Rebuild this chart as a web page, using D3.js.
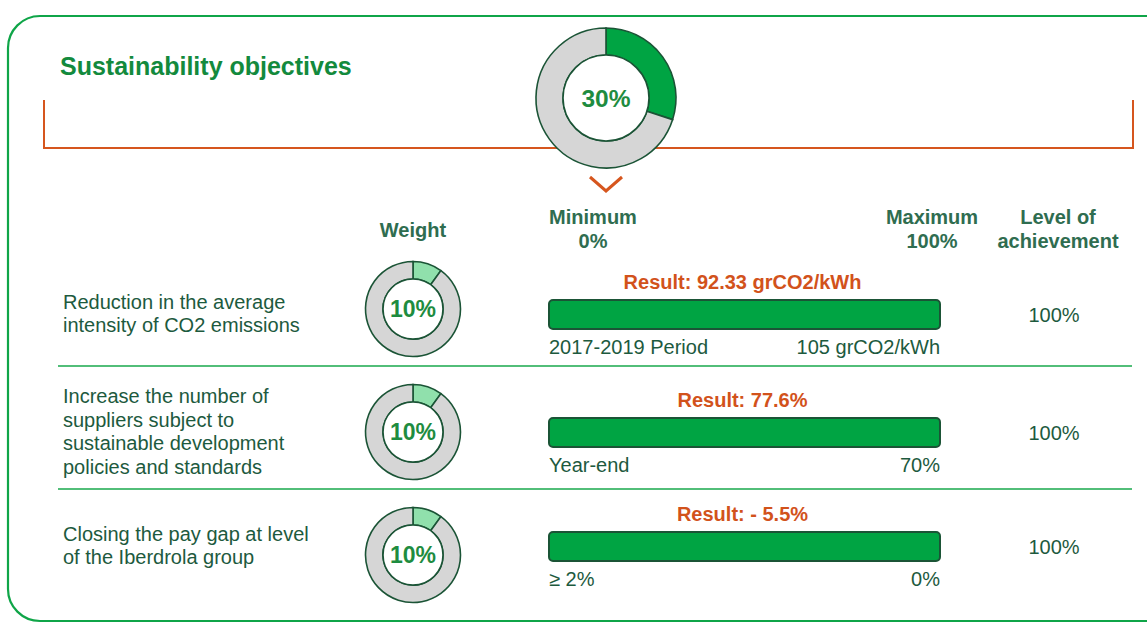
<!DOCTYPE html>
<html lang="en">
<head>
    <meta charset="UTF-8">
    <title>Sustainability objectives</title>
    <script src="https://cdn.jsdelivr.net/npm/d3@7"></script>
    <style>
        html, body {
            margin: 0;
            padding: 0;
            background: #ffffff;
        }

        svg {
            display: block;
            font-family: "Liberation Sans", Arial, sans-serif;
        }

        .head {
            font-weight: bold;
            font-size: 20px;
            fill: #2f6d50;
        }

        .txt {
            font-size: 20px;
            fill: #1d5a3e;
        }

        .result {
            font-weight: bold;
            font-size: 20px;
            fill: #d2521b;
        }
    </style>
</head>
<body>
<svg id="chart"></svg>

<script>
    // data
    const objectives = [
        ["Reduction in the average", "intensity of CO2 emissions"],
        ["Increase the number of", "suppliers subject to", "sustainable development", "policies and standards"],
        ["Closing the pay gap at level", "of the Iberdrola group"]
    ];
    const weights = [10, 10, 10];
    const totalWeight = 30;
    const results = ["Result: 92.33 grCO2/kWh", "Result: 77.6%", "Result: - 5.5%"];
    const minLabels = ["2017-2019 Period", "Year-end", "\u2265 2%"];
    const maxLabels = ["105 grCO2/kWh", "70%", "0%"];
    const achievement = [100, 100, 100];

    const width = 1147, height = 623;
    const svg = d3.select("#chart").attr("width", width).attr("height", height);

    const green = "#00a443", lightGreen = "#90e0ac", grey = "#d6d6d6", dark = "#1b5436", orange = "#d6561e";

    // frame
    svg.append("rect")
        .attr("x", 8).attr("y", 16)
        .attr("width", 1180).attr("height", 605)
        .attr("rx", 32)
        .attr("fill", "none").attr("stroke", "#0fa548").attr("stroke-width", 2.2);

    svg.append("text")
        .attr("x", 60).attr("y", 75)
        .attr("font-size", 25).attr("font-weight", "bold")
        .attr("fill", "#138a3d")
        .text("Sustainability objectives");

    // orange bracket
    svg.append("path")
        .attr("d", "M44,100V148H1133V100")
        .attr("fill", "none").attr("stroke", orange).attr("stroke-width", 2);

    // donut helper
    const pie = d3.pie().sort(null).value(d => d);

    function donut(cx, cy, rOuter, rInner, value, fillColor, fontSize) {
        const arc = d3.arc().innerRadius(rInner).outerRadius(rOuter);
        const g = svg.append("g").attr("transform", `translate(${cx},${cy})`);
        g.selectAll("path")
            .data(pie([value, 100 - value]))
            .join("path")
            .attr("d", arc)
            .attr("fill", (d, i) => i === 0 ? fillColor : grey)
            .attr("stroke", dark)
            .attr("stroke-width", 1.6);
        g.append("circle").attr("r", rInner).attr("fill", "#fff").attr("stroke", dark).attr("stroke-width", 1.6);
        g.append("text")
            .attr("text-anchor", "middle")
            .attr("dy", "0.35em")
            .attr("font-size", fontSize).attr("font-weight", "bold")
            .attr("fill", "#1e8c40")
            .text(value + "%");
    }

    donut(606, 98, 70, 43, totalWeight, green, 24.5);

    // chevron
    svg.append("path")
        .attr("d", "M590,177L606,191L622,177")
        .attr("fill", "none").attr("stroke", orange).attr("stroke-width", 3);

    // scales
    const x = d3.scaleLinear().domain([0, 100]).range([549, 940]);
    const rows = d3.scaleBand().domain(d3.range(objectives.length)).range([243, 612]).padding(0);
    const barTop = [300, 418, 532];
    const barH = 29;
    const weightX = 413, levelX = 1054;

    // column headers
    const head = svg.append("g").attr("class", "head").attr("text-anchor", "middle");
    head.append("text").attr("x", weightX).attr("y", 237).text("Weight");
    head.append("text").attr("x", x(0) + 44).attr("y", 224).text("Minimum");
    head.append("text").attr("x", x(0) + 44).attr("y", 248).text("0%");
    head.append("text").attr("x", x(100) - 8).attr("y", 224).text("Maximum");
    head.append("text").attr("x", x(100) - 8).attr("y", 248).text("100%");
    head.append("text").attr("x", 1058).attr("y", 224).text("Level of");
    head.append("text").attr("x", 1058).attr("y", 248).text("achievement");

    objectives.forEach((lines, i) => {
        const top = rows(i);
        const by = barTop[i];
        const mid = by + barH / 2;

        // objective label
        const lh = 23.5;
        const t = svg.append("text").attr("class", "txt");
        lines.forEach((line, j) => {
            t.append("tspan")
                .attr("x", 63)
                .attr("y", mid - (lines.length - 1) * lh / 2 + j * lh - 1)
                .attr("dy", "0.35em")
                .text(line);
        });

        donut(weightX, top + 66, 47.5, 30, weights[i], lightGreen, 23);

        svg.append("text").attr("class", "result")
            .attr("x", (x(0) + x(100)) / 2 - 2)
            .attr("y", by - 18).attr("dy", "0.35em")
            .attr("text-anchor", "middle")
            .text(results[i]);

        svg.append("rect")
            .attr("x", x(0)).attr("y", by)
            .attr("width", x(achievement[i]) - x(0)).attr("height", barH)
            .attr("rx", 4)
            .attr("fill", green).attr("stroke", dark).attr("stroke-width", 2);

        svg.append("text").attr("class", "txt")
            .attr("x", x(0)).attr("y", by + barH + 18).attr("dy", "0.35em")
            .text(minLabels[i]);
        svg.append("text").attr("class", "txt")
            .attr("x", x(100)).attr("y", by + barH + 18).attr("dy", "0.35em")
            .attr("text-anchor", "end")
            .text(maxLabels[i]);

        svg.append("text").attr("class", "txt")
            .attr("x", levelX).attr("y", mid).attr("dy", "0.35em")
            .attr("text-anchor", "middle")
            .text(achievement[i] + "%");

        if (i < objectives.length - 1) {
            svg.append("line")
                .attr("x1", 58).attr("x2", 1132)
                .attr("y1", rows(i) + rows.bandwidth()).attr("y2", rows(i) + rows.bandwidth())
                .attr("stroke", "#18a84c").attr("stroke-width", 1.5);
        }
    });
</script>
</body>
</html>
